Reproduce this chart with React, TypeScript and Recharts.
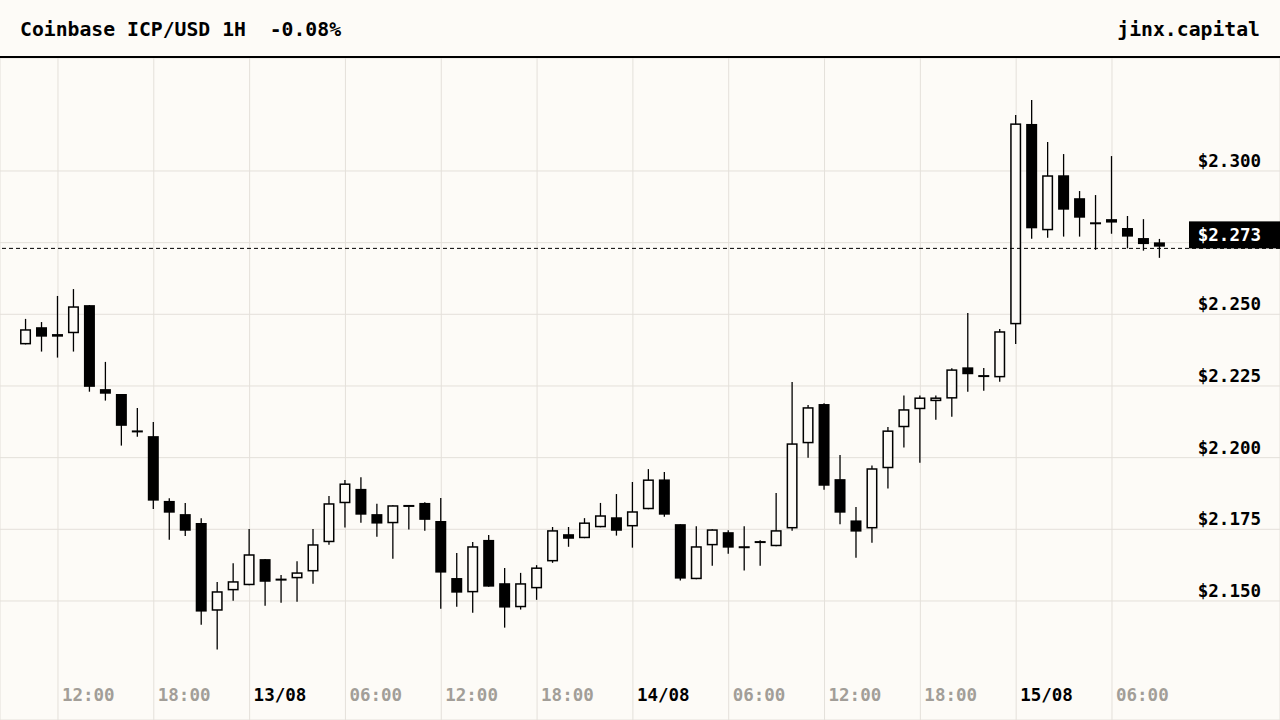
import { ComposedChart, Bar, XAxis, YAxis, CartesianGrid, ReferenceLine } from 'recharts';

// hourly candles, 12/08 10:00 -> 15/08 09:00
const OPEN = [
  2.2395, 2.2455, 2.2422, 2.2434, 2.2532, 2.2239, 2.2222, 2.2095, 2.2075, 2.1849,
  2.1803, 2.1772, 2.1466, 2.1537, 2.1555, 2.1646, 2.1578, 2.1579, 2.1603, 2.1705,
  2.1841, 2.1891, 2.1803, 2.1771, 2.1835, 2.1842, 2.1779, 2.158, 2.153, 2.1713,
  2.1562, 2.1478, 2.1544, 2.1638, 2.1733, 2.1719, 2.1757, 2.1792, 2.176, 2.182,
  2.1924, 2.1768, 2.1576, 2.1694, 2.174, 2.1684, 2.1709, 2.1691, 2.1753, 2.205,
  2.2187, 2.1925, 2.1781, 2.1753, 2.1963, 2.2106, 2.2169, 2.2197, 2.2206, 2.2315,
  2.2287, 2.228, 2.2465, 2.3164, 2.2793, 2.2985, 2.2905, 2.2821, 2.2832, 2.2801,
  2.2766, 2.2751,
];
const HIGH = [
  2.2484, 2.2473, 2.2564, 2.2588, 2.2532, 2.2334, 2.2222, 2.2173, 2.2124, 2.1858,
  2.1842, 2.1789, 2.1566, 2.1632, 2.1751, 2.1646, 2.1591, 2.1639, 2.1751, 2.1866,
  2.1922, 2.1932, 2.1839, 2.1834, 2.1835, 2.1844, 2.1859, 2.1667, 2.1706, 2.173,
  2.1615, 2.1598, 2.1625, 2.1758, 2.1758, 2.1789, 2.1842, 2.1873, 2.1915, 2.196,
  2.195, 2.1768, 2.1761, 2.175, 2.1747, 2.1761, 2.1712, 2.1877, 2.2264, 2.2184,
  2.219, 2.2009, 2.1828, 2.1973, 2.2107, 2.2217, 2.2217, 2.2217, 2.2312, 2.2505,
  2.2313, 2.2449, 2.3195, 2.3248, 2.3101, 2.3059, 2.293, 2.2916, 2.3052, 2.2843,
  2.2832, 2.2763,
];
const LOW = [
  2.2395, 2.237, 2.2349, 2.237, 2.223, 2.2199, 2.2042, 2.2073, 2.1821, 2.1714,
  2.1727, 2.1417, 2.1331, 2.1501, 2.1555, 2.1483, 2.1494, 2.1497, 2.156, 2.1696,
  2.1756, 2.1773, 2.1724, 2.1647, 2.1749, 2.1745, 2.1473, 2.148, 2.1459, 2.155,
  2.1407, 2.147, 2.1504, 2.1633, 2.1689, 2.1719, 2.1757, 2.1728, 2.1686, 2.182,
  2.1794, 2.1571, 2.1576, 2.1623, 2.1665, 2.1606, 2.1623, 2.1691, 2.1745, 2.2,
  2.1888, 2.1768, 2.1651, 2.1703, 2.1892, 2.2035, 2.1982, 2.2132, 2.2143, 2.223,
  2.2233, 2.2265, 2.2396, 2.2764, 2.2767, 2.2771, 2.2771, 2.2725, 2.2781, 2.273,
  2.2722, 2.2697,
];
const CLOSE = [
  2.2448, 2.2422, 2.2431, 2.2528, 2.2247, 2.2223, 2.2111, 2.2091, 2.185, 2.1808,
  2.1745, 2.1463, 2.1534, 2.1569, 2.1663, 2.1567, 2.1576, 2.16, 2.1698, 2.1841,
  2.191, 2.1801, 2.177, 2.1834, 2.183, 2.1783, 2.1599, 2.1529, 2.1691, 2.155,
  2.1477, 2.1562, 2.1617, 2.1747, 2.1717, 2.1774, 2.1799, 2.1745, 2.1813, 2.1924,
  2.1801, 2.1578, 2.1691, 2.175, 2.1686, 2.1691, 2.1702, 2.1747, 2.205, 2.2176,
  2.1902, 2.1808, 2.1742, 2.1963, 2.2095, 2.2169, 2.221, 2.221, 2.2308, 2.2291,
  2.2288, 2.2441, 2.3166, 2.28, 2.2985, 2.2865, 2.2837, 2.2819, 2.282, 2.2771,
  2.2745, 2.2736,
];

const X_TICKS = [2, 8, 14, 20, 26, 32, 38, 44, 50, 56, 62, 68];
const X_LABELS = ['12:00', '18:00', '13/08', '06:00', '12:00', '18:00', '14/08', '06:00', '12:00', '18:00', '15/08', '06:00'];
const Y_TICKS = [2.15, 2.175, 2.2, 2.225, 2.25, 2.275, 2.3];
const LAST_PRICE = 2.273;

const BG = '#fdfbf7';
const GRID = '#e4e0da';
const FONT = '"DejaVu Sans Mono", monospace';

const data = OPEN.map((open, i) => ({
  i,
  open,
  high: HIGH[i],
  low: LOW[i],
  close: CLOSE[i],
}));

function Candle(props: any) {
  const { x, y, width, height, payload } = props;
  const { open, close, high, low } = payload;
  const top = Math.min(y, y + height);
  const h = Math.abs(height);
  const k = h / (high - low || 1);
  const yOf = (p: number) => top + (high - p) * k;
  const cx = x + width / 2;
  const bTop = yOf(Math.max(open, close));
  const bBot = yOf(Math.min(open, close));
  const up = close >= open;
  return (
    <g>
      <line x1={cx} x2={cx} y1={top} y2={top + h} stroke="#000" strokeWidth={1.3} />
      {up ? (
        <rect
          x={x + 0.75}
          y={bTop + 0.75}
          width={width - 1.5}
          height={Math.max(bBot - bTop - 1.5, 0.5)}
          fill={BG}
          stroke="#000"
          strokeWidth={1.5}
        />
      ) : (
        <rect x={x} y={bTop} width={width} height={Math.max(bBot - bTop, 2)} fill="#000" />
      )}
    </g>
  );
}

function XTick(props: any) {
  const { x, payload } = props;
  const idx = X_TICKS.indexOf(payload.value);
  const label = X_LABELS[idx];
  if (!label) return null;
  const isDate = label.includes('/');
  return (
    <text x={x + 4} y={643} fontFamily={FONT} fontWeight="bold" fontSize={17.5} fill={isDate ? '#000' : '#a29e98'}>
      {label}
    </text>
  );
}

function YTick(props: any) {
  const { y, payload } = props;
  // the last-price tag covers the label next to it
  if (Math.abs(payload.value - LAST_PRICE) < 0.01) return null;
  return (
    <text x={1261} y={y - 4} textAnchor="end" fontFamily={FONT} fontWeight="bold" fontSize={17.5} fill="#000">
      {'$' + payload.value.toFixed(3)}
    </text>
  );
}

function PriceTag(props: any) {
  const y = props.viewBox?.y ?? 0;
  return (
    <g>
      <rect x={1189} y={y - 27} width={91} height={27} fill="#000" />
      <text x={1261} y={y - 7} textAnchor="end" fontFamily={FONT} fontWeight="bold" fontSize={17.5} fill="#fff">
        {'$' + LAST_PRICE.toFixed(3)}
      </text>
    </g>
  );
}

export default function App() {
  return (
    <div style={{ width: 1280, height: 720, background: BG, overflow: 'hidden' }}>
      <style>{'body{margin:0}'}</style>
      <svg width={1280} height={58} style={{ display: 'block' }}>
        <text x={20} y={36} fontFamily={FONT} fontWeight="bold" fontSize={19.75} fill="#000" xmlSpace="preserve">
          Coinbase ICP/USD 1H  -0.08%
        </text>
        <text x={1260} y={36} textAnchor="end" fontFamily={FONT} fontWeight="bold" fontSize={19.75} fill="#000">
          jinx.capital
        </text>
        <line x1={0} x2={1280} y1={57} y2={57} stroke="#000" strokeWidth={2} />
      </svg>
      <ComposedChart width={1280} height={662} data={data} margin={{ top: 0, right: 0, bottom: 0, left: 0 }}>
        <CartesianGrid stroke={GRID} strokeWidth={1} />
        <XAxis
          dataKey="i"
          type="number"
          domain={[-1.63, 78.52]}
          allowDataOverflow
          ticks={X_TICKS}
          mirror
          axisLine={false}
          tickLine={false}
          tick={<XTick />}
          interval={0}
        />
        <YAxis
          orientation="right"
          type="number"
          domain={[2.10848, 2.33941]}
          allowDataOverflow
          ticks={Y_TICKS}
          mirror
          axisLine={false}
          tickLine={false}
          tick={<YTick />}
          interval={0}
        />
        <ReferenceLine y={LAST_PRICE} stroke="#000" strokeWidth={1} strokeDasharray="4 3" label={<PriceTag />} />
        <Bar
          dataKey={(d: any) => [d.low, d.high]}
          barSize={11}
          shape={<Candle />}
          isAnimationActive={false}
        />
      </ComposedChart>
    </div>
  );
}
